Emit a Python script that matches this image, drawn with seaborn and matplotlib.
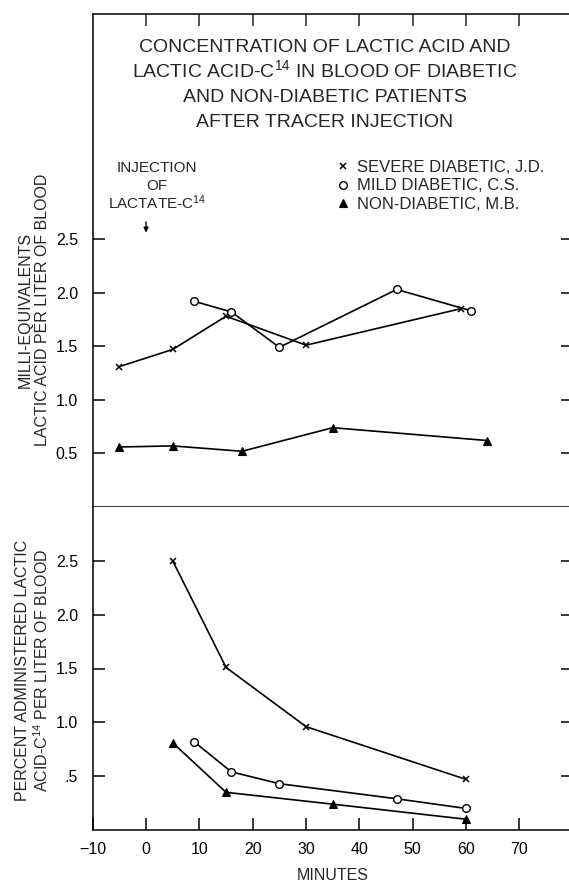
import matplotlib
matplotlib.use("Agg")
import matplotlib.pyplot as plt
import numpy as np
import pandas as pd
import seaborn as sns
from matplotlib.lines import Line2D

# ---------------- data ----------------
series_labels = ["SEVERE DIABETIC, J.D.", "MILD DIABETIC, C.S.", "NON-DIABETIC, M.B."]

# upper panel: lactic acid, milli-equivalents per liter of blood
top_severe_min = [-5, 5, 15, 30, 59]
top_severe_val = [1.31, 1.47, 1.78, 1.51, 1.85]
top_mild_min = [9, 16, 25, 47, 61]
top_mild_val = [1.92, 1.82, 1.49, 2.03, 1.83]
top_non_min = [-5, 5, 18, 35, 64]
top_non_val = [0.56, 0.57, 0.52, 0.74, 0.62]

# lower panel: percent administered lactic acid-C14 per liter of blood
bot_severe_min = [5, 15, 30, 60]
bot_severe_val = [2.50, 1.51, 0.96, 0.47]
bot_mild_min = [9, 16, 25, 47, 60]
bot_mild_val = [0.82, 0.54, 0.43, 0.29, 0.20]
bot_non_min = [5, 15, 35, 60]
bot_non_val = [0.81, 0.35, 0.24, 0.10]

x_ticks = [-10, 0, 10, 20, 30, 40, 50, 60, 70]
x_tick_labels = ["\u221210", "0", "10", "20", "30", "40", "50", "60", "70"]
y_ticks = [0.5, 1.0, 1.5, 2.0, 2.5]
top_y_tick_labels = ["0.5", "1.0", "1.5", "2.0", "2.5"]
bot_y_tick_labels = [".5", "1.0", "1.5", "2.0", "2.5"]

title_lines = [
    "CONCENTRATION OF LACTIC ACID AND",
    r"LACTIC ACID-C$^{\mathregular{14}}$ IN BLOOD OF DIABETIC",
    "AND NON-DIABETIC PATIENTS",
    "AFTER TRACER INJECTION",
]
injection_lines = ["INJECTION", "OF", r"LACTATE-C$^{\mathregular{14}}$"]
top_ylabel = "MILLI-EQUIVALENTS\nLACTIC ACID PER LITER OF BLOOD"
bot_ylabel = "PERCENT ADMINISTERED LACTIC\n" + r"ACID-C$^{\mathregular{14}}$ PER LITER OF BLOOD"
xlabel = "MINUTES"

# ---------------- style ----------------
sns.set_style("white")
plt.rcParams["font.family"] = ["Liberation Sans", "DejaVu Sans"]
plt.rcParams["mathtext.default"] = "regular"

W, H = 569, 883
fig = plt.figure(figsize=(W / 100, H / 100), dpi=100)


def px_rect(l, t, r, b):
    return [l / W, 1 - b / H, (r - l) / W, (b - t) / H]


ax_top = fig.add_axes(px_rect(92.7, 14, 572.7, 507))
ax_bot = fig.add_axes(px_rect(92.7, 507, 572.7, 830))

marker_styles = [
    dict(marker="x", ms=5, mew=1.1, mec="black", mfc="black"),
    dict(marker="o", ms=5.5, mew=1.0, mec="black", mfc="white"),
    dict(marker="^", ms=6, mew=0.8, mec="black", mfc="black"),
]

top_series = [(top_severe_min, top_severe_val), (top_mild_min, top_mild_val), (top_non_min, top_non_val)]
bot_series = [(bot_severe_min, bot_severe_val), (bot_mild_min, bot_mild_val), (bot_non_min, bot_non_val)]

for ax, series in ((ax_top, top_series), (ax_bot, bot_series)):
    for (xs, ys), st, lab in zip(series, marker_styles, series_labels):
        df = pd.DataFrame({"minutes": xs, "value": ys})
        sns.lineplot(data=df, x="minutes", y="value", ax=ax, color="black",
                     lw=1.2, sort=False, legend=False, clip_on=False, **st)

LW = 1.1
for ax in (ax_top, ax_bot):
    ax.set_xlim(-10, 80)
    ax.set_xlabel("")
    ax.set_ylabel("")
    ax.set_yticks(y_ticks)
    for s in ax.spines.values():
        s.set_linewidth(LW)
        s.set_color("black")
    ax.spines["right"].set_visible(False)
    ax.tick_params(axis="y", direction="in", length=8.6, width=LW, left=True, right=True,
                   labelleft=True, labelright=False, pad=10.5, labelsize=11.5, colors="black")

ax_top.set_ylim(0, 4.6)
ax_bot.set_ylim(0, 3.0)
ax_top.set_yticklabels(top_y_tick_labels)
ax_bot.set_yticklabels(bot_y_tick_labels)

ax_top.set_xticks(x_ticks[1:])
ax_top.tick_params(axis="x", direction="in", length=8.6, width=LW, top=True, bottom=False,
                   labeltop=False, labelbottom=False)
ax_bot.spines["top"].set_visible(False)
ax_bot.set_xticks(x_ticks)
ax_bot.set_xticklabels(x_tick_labels)
ax_bot.tick_params(axis="x", direction="in", length=8.6, width=LW, top=False, bottom=True,
                   labelsize=11.5, pad=9, colors="black")
ax_bot.set_xlabel(xlabel, fontsize=11.5)
ax_bot.xaxis.set_label_coords(0.5, -(876 - 830) / 323)
ax_bot.xaxis.label.set_va("center")

# title
title_y = [45, 70, 95, 120]
for line, yp in zip(title_lines, title_y):
    fig.text(325 / W, 1 - (yp + 7) / H, line, ha="center", va="baseline", fontsize=14)

# injection note and arrow
inj_y = [166, 185, 204]
for line, yp in zip(injection_lines, inj_y):
    fig.text(157 / W, 1 - (yp + 5.5) / H, line, ha="center", va="baseline", fontsize=11)
ax_top.annotate("", xy=(0, 2.56), xytext=(0, 2.66),
                arrowprops=dict(arrowstyle="-|>", color="black", lw=1.0,
                                mutation_scale=7, shrinkA=0, shrinkB=0))

# legend
handles = [Line2D([], [], ls="none", color="black", **st) for st in marker_styles]
ax_top.legend(handles, series_labels, loc="upper left",
              bbox_to_anchor=(336 / W, 1 - 160 / H), bbox_transform=fig.transFigure,
              frameon=False, borderpad=0, borderaxespad=0, handlelength=0.8,
              handletextpad=0.45, labelspacing=0.2, fontsize=12)

# y labels
fig.text(34 / W, 1 - 310 / H, top_ylabel, rotation=90, ha="center", va="center",
         multialignment="center", fontsize=11.5, linespacing=1.15)
fig.text(33 / W, 1 - 670 / H, bot_ylabel, rotation=90, ha="center", va="center",
         multialignment="center", fontsize=11.5, linespacing=1.15)

fig.savefig("out.png", dpi=100)
